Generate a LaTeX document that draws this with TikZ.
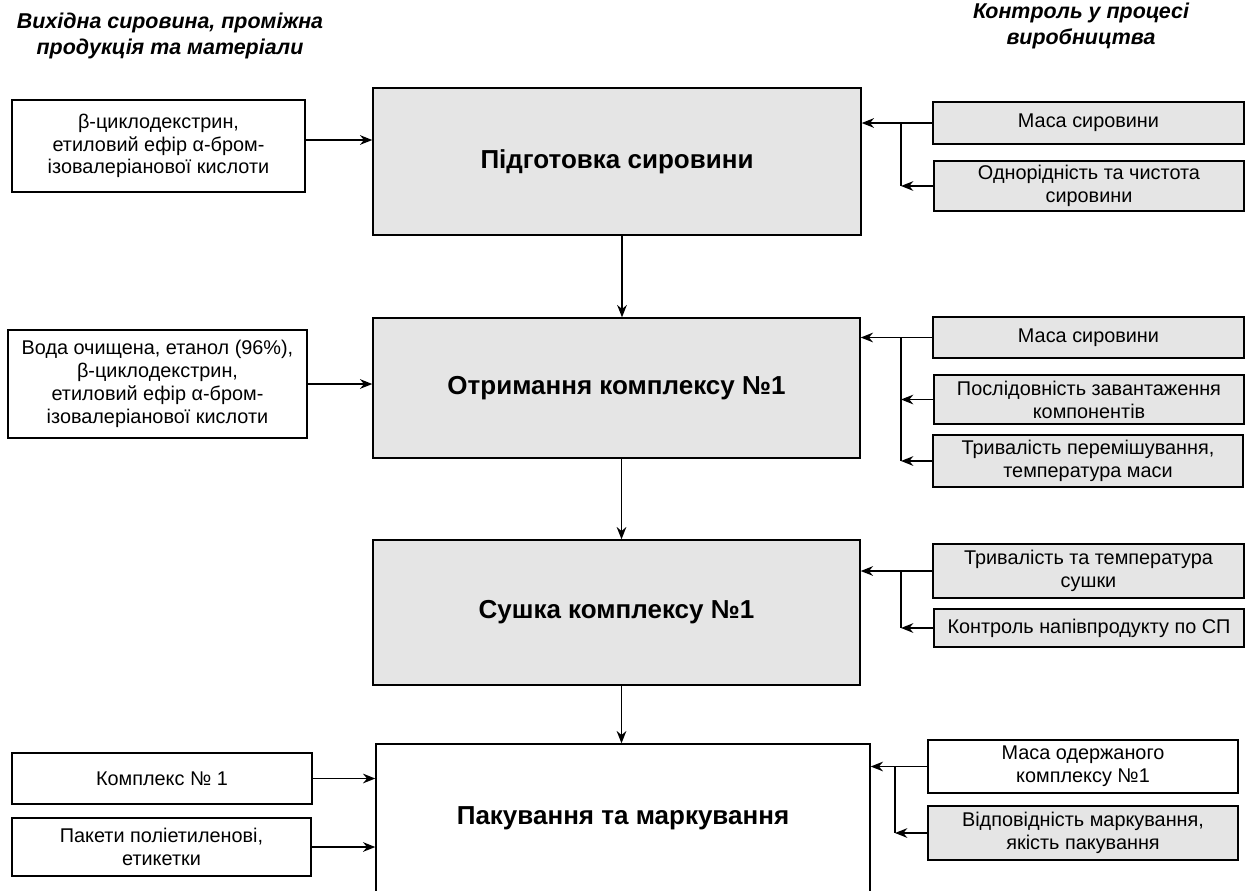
\documentclass[tikz,border=0pt]{standalone}
\usepackage{fontspec}
\setmainfont{Liberation Sans}
\usetikzlibrary{arrows.meta}
\def\pxu{0.02cm}

\begin{document}
\begin{tikzpicture}[x=0.02cm, y=-0.02cm, >={Stealth[length=7pt,width=5.5pt]}, line width=0.8pt]
            \tikzset{stage/.style = {draw, fill=gray!20, align=center, inner sep=0pt, font=\bfseries\fontsize{14.8}{17}\selectfont}}
            \tikzset{input/.style = {draw, fill=white, align=center, inner sep=0pt, font=\fontsize{11.3}{13}\selectfont}}
            \tikzset{check/.style = {input, fill=gray!20}}
            \tikzset{head/.style = {align=center, font=\bfseries\itshape\fontsize{12.2}{14.3}\selectfont}}

            \useasboundingbox (0,0) rectangle (1247,890);

            % column headings
            \node[head] (hin) at (170,36) {Вихідна сировина, проміжна\\продукція та матеріали};
            \node[head] (hctl) at (1081,26) {Контроль у процесі\\виробництва};

            % stages
            \node[stage, minimum width=488*\pxu, minimum height=147*\pxu] (prep) at (617,161.5) {Підготовка сировини};
            \node[stage, minimum width=487*\pxu, minimum height=140*\pxu] (cplx) at (616.5,388) {Отримання комплексу №1};
            \node[stage, minimum width=487*\pxu, minimum height=145*\pxu] (dry) at (616.5,612.5) {Сушка комплексу №1};
            \node[stage, fill=white, minimum width=494*\pxu, minimum height=206*\pxu] (pack) at (623,847) {};
            \node[font=\bfseries\fontsize{14.8}{17}\selectfont] (packtxt) at (623,818) {Пакування та маркування};

            % inputs
            \node[input, minimum width=293*\pxu, minimum height=92*\pxu] (inprep) at (158.5,146)
                {β-циклодекстрин,\\етиловий ефір α-бром-\\ізовалеріанової кислоти};
            \node[input, minimum width=299*\pxu, minimum height=108*\pxu] (incplx) at (157.5,384)
                {Вода очищена, етанол (96\%),\\β-циклодекстрин,\\етиловий ефір α-бром-\\ізовалеріанової кислоти};
            \node[input, minimum width=300*\pxu, minimum height=51*\pxu] (inprod) at (162,778.5) {Комплекс № 1};
            \node[input, minimum width=299*\pxu, minimum height=58*\pxu] (inpkg) at (161.5,847) {Пакети поліетиленові,\\етикетки};

            % controls
            \node[check, minimum width=311*\pxu, minimum height=42*\pxu] (mass1) at (1088.5,123) {Маса сировини};
            \node[check, minimum width=310*\pxu, minimum height=50*\pxu] (pure) at (1089,186) {Однорідність та чистота\\сировини};
            \node[check, minimum width=311*\pxu, minimum height=41*\pxu] (mass2) at (1088.5,337.5) {Маса сировини};
            \node[check, minimum width=310*\pxu, minimum height=49*\pxu] (order) at (1089,399.5) {Послідовність завантаження\\компонентів};
            \node[check, minimum width=310*\pxu, minimum height=52*\pxu] (mix) at (1088,461) {Тривалість перемішування,\\температура маси};
            \node[check, minimum width=311*\pxu, minimum height=54*\pxu] (drytemp) at (1088.5,571) {Тривалість та температура\\сушки};
            \node[check, minimum width=310*\pxu, minimum height=38*\pxu] (semi) at (1089,628) {Контроль напівпродукту по СП};
            \node[input, minimum width=310*\pxu, minimum height=53*\pxu] (massout) at (1083,766.5) {Маса одержаного\\комплексу №1};
            \node[check, minimum width=310*\pxu, minimum height=54*\pxu] (label) at (1083,833) {Відповідність маркування,\\якість пакування};

            % branch points
            \coordinate (t1) at (901,123);
            \coordinate (t2) at (901,337.5);
            \coordinate (t3) at (901,571);
            \coordinate (t4) at (895,766.5);

            % main flow
            \draw[->] ([xshift=5*\pxu]prep.south) -- ([xshift=5*\pxu]prep.south |- cplx.north);
            \draw[->] ([xshift=5*\pxu]cplx.south) -- ([xshift=5*\pxu]cplx.south |- dry.north);
            \draw[->] ([xshift=5*\pxu]dry.south) -- ([xshift=5*\pxu]dry.south |- pack.north);

            % inputs to stages
            \draw[->] ([yshift=6*\pxu]inprep.east) -- ([yshift=6*\pxu]inprep.east -| prep.west);
            \draw[->] (incplx.east) -- (incplx.east -| cplx.west);
            \draw[->] (inprod.east) -- (inprod.east -| pack.west);
            \draw[->] (inpkg.east) -- (inpkg.east -| pack.west);

            % controls to stages
            \draw[->] (mass1.west) -- (mass1.west -| prep.east);
            \draw (t1) -- (t1 |- pure.west);
            \draw[->] (pure.west) -- (t1 |- pure.west);

            \draw[->] (mass2.west) -- (mass2.west -| cplx.east);
            \draw (t2) -- (t2 |- mix.west);
            \draw[->] (order.west) -- (t2 |- order.west);
            \draw[->] (mix.west) -- (t2 |- mix.west);

            \draw[->] (drytemp.west) -- (drytemp.west -| dry.east);
            \draw (t3) -- (t3 |- semi.west);
            \draw[->] (semi.west) -- (t3 |- semi.west);

            \draw[->] (massout.west) -- (massout.west -| pack.east);
            \draw (t4) -- (t4 |- label.west);
            \draw[->] (label.west) -- (t4 |- label.west);
        \end{tikzpicture}
\end{document}
